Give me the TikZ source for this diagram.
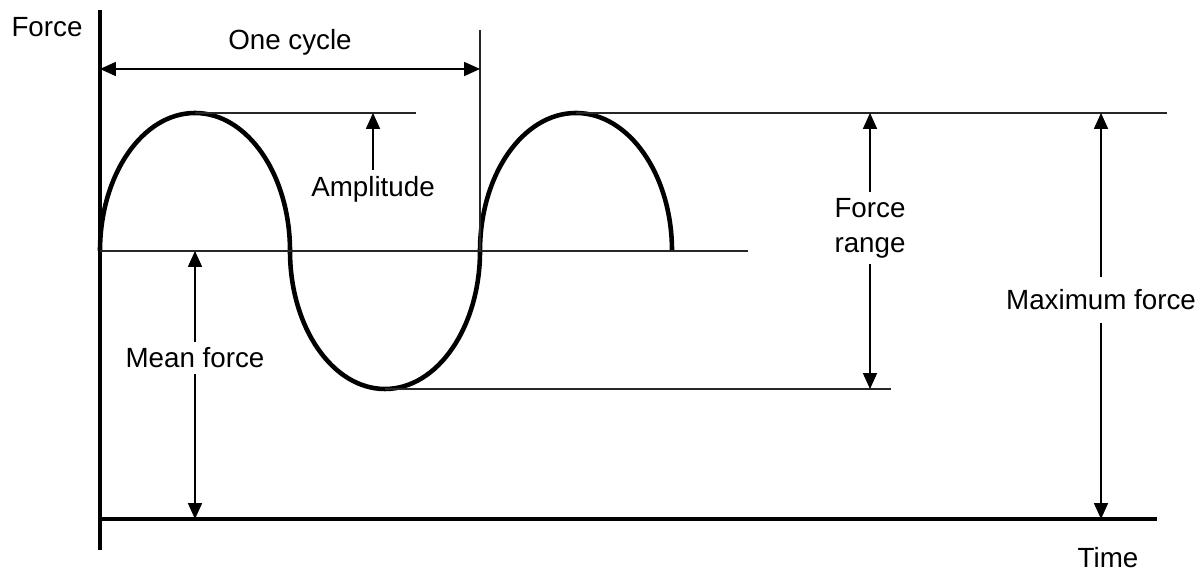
\documentclass[tikz,border=0pt]{standalone}
\usepackage{fontspec}
\setmainfont{Liberation Sans}
\usetikzlibrary{arrows.meta,positioning}

\begin{document}
\begin{tikzpicture}[x=0.02cm, y=0.02cm,
    lbl/.style={font=\fontsize{15.8}{19.8}\selectfont},
    axis/.style={line width=2.3pt},
    wave/.style={line width=2.6pt},
    guide/.style={line width=0.6pt, black!85},
    dim/.style={line width=0.6pt, -{Triangle[length=9pt,width=8pt]}},
]
\useasboundingbox (0,0) rectangle (1199,573);

% axes
\coordinate (ytop) at (100,563);
\coordinate (ybot) at (100,23);
\coordinate (orig) at (100,54);
\coordinate (xend) at (1157,54);
\draw[axis] (ytop) -- (ybot);
\draw[axis] (orig) -- (xend);
\node[lbl] (forcelbl) at (47,546) {Force};
\node[lbl] (timelbl) at (1108,15) {Time};

% wave: half-ellipses about the mean line
\coordinate (w0) at (100,322);
\draw[wave] (w0)
    arc[start angle=180, end angle=0, x radius=95, y radius=138] coordinate (w1)
    arc[start angle=180, end angle=360, x radius=95, y radius=138] coordinate (w2)
    arc[start angle=180, end angle=0, x radius=96, y radius=138] coordinate (w3);

% guide lines
\coordinate (peakA) at (195,460);
\coordinate (peakB) at (576,460);
\coordinate (trough) at (385,184);
\draw[guide] (w0) -- (748,322) coordinate (meanend);
\draw[guide] (peakA) -- (416,460) coordinate (ampend);
\draw[guide] (trough) -- (891,184) coordinate (troughend);
\draw[guide] (peakB) -- (1167,460) coordinate (peakend);
\draw[guide, line width=1pt] (480,543) coordinate (cyctop) -- (w2);

% one cycle
\coordinate (cycL) at (100,504);
\coordinate (cycR) at (480,504);
\draw[dim, {Triangle[length=9pt,width=8pt]}-{Triangle[length=9pt,width=8pt]}] (cycL) -- (cycR);
\node[lbl] (cyclbl) at (290,531) {One cycle};

% amplitude
\node[lbl] (amplbl) at (373,384) {Amplitude};
\draw[dim] (amplbl.north) -- (amplbl.north |- peakA);

% mean force
\node[lbl] (meanlbl) at (195,215) {Mean force};
\draw[dim] (meanlbl.north) -- (meanlbl.north |- w0);
\draw[dim] (meanlbl.south) -- (meanlbl.south |- orig);

% force range
\node[lbl, align=center] (rangelbl) at (870,345) {Force\\range};
\draw[dim] (rangelbl.north) -- (rangelbl.north |- peakB);
\draw[dim] (rangelbl.south) -- (rangelbl.south |- trough);

% maximum force
\node[lbl, inner sep=7pt] (maxlbl) at (1101,273) {Maximum force};
\draw[dim] (maxlbl.north) -- (maxlbl.north |- peakB);
\draw[dim] (maxlbl.south) -- (maxlbl.south |- orig);
\end{tikzpicture}
\end{document}
